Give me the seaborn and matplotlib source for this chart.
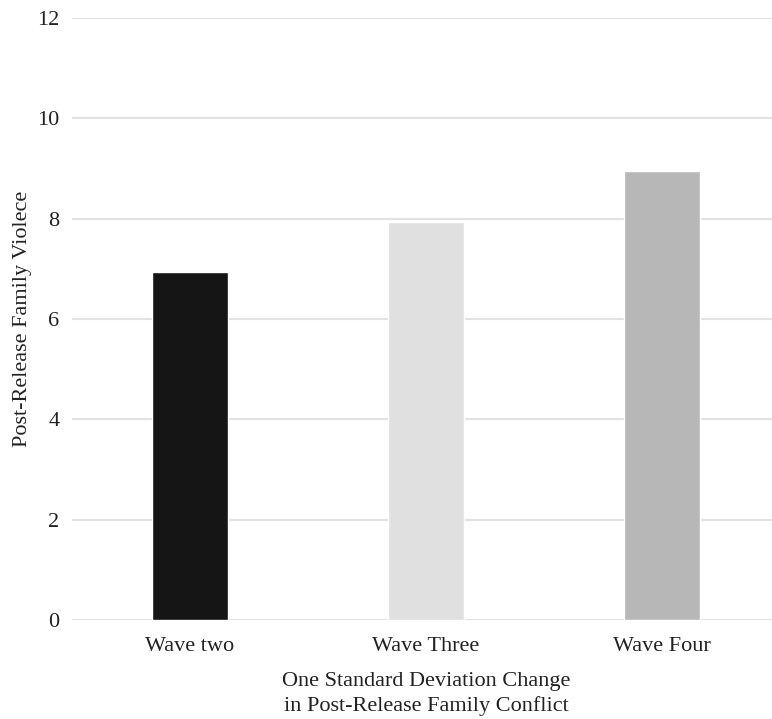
import matplotlib
matplotlib.use("Agg")
from matplotlib import pyplot as plt
import seaborn as sns
import pandas as pd

waves = ["Wave two", "Wave Three", "Wave Four"]
violence = [6.93, 7.94, 8.96]
bar_colors = ["#151515", "#e0e0e0", "#b7b7b7"]
yticks = [0, 2, 4, 6, 8, 10, 12]

df = pd.DataFrame({"wave": waves, "violence": violence})

sns.set_style("white")
plt.rcParams["font.family"] = ["Liberation Serif", "DejaVu Serif"]
plt.rcParams["font.size"] = 16

fig = plt.figure(figsize=(7.72, 7.19), dpi=100)
ax = fig.add_axes([72 / 772, 99 / 719, 708 / 772, 602 / 719])

sns.barplot(data=df, x="wave", y="violence", hue="wave", palette=bar_colors,
            width=0.32, legend=False, ax=ax, zorder=3)

ax.set_ylim(0, 12)
ax.set_xlim(-0.5, 2.5)
ax.set_yticks(yticks)
ax.yaxis.grid(True, color="#e2e2e2", linewidth=1.5, zorder=0)
ax.set_axisbelow(True)
for s in ax.spines.values():
    s.set_visible(False)
ax.tick_params(axis="both", length=0, labelsize=16, colors="#222222")
ax.tick_params(axis="x", pad=12)
ax.tick_params(axis="y", pad=9)

ax.set_xlabel("One Standard Deviation Change\nin Post-Release Family Conflict",
              fontsize=16, color="#222222", labelpad=12, linespacing=1.35)
ax.set_ylabel("Post-Release Family Violece", fontsize=16, color="#222222", labelpad=4)

fig.savefig("out.png", dpi=100)
